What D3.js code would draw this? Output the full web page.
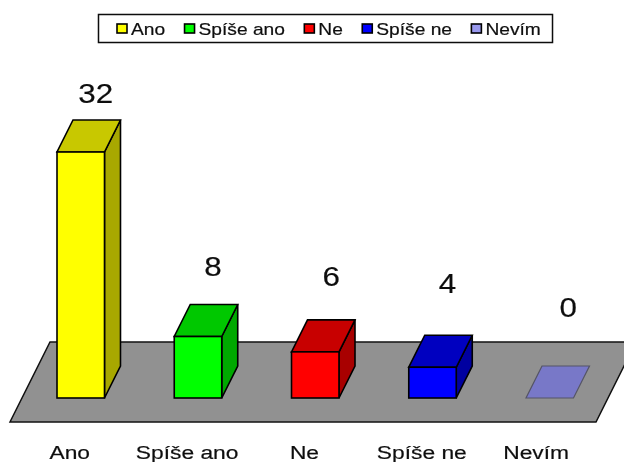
<!DOCTYPE html>
<html><head><meta charset="utf-8">
<script src="https://cdn.jsdelivr.net/npm/d3@7/dist/d3.min.js"></script>
<style>html,body{margin:0;background:#fff}svg{display:block}text{font-family:"Liberation Sans",Arial,sans-serif;fill:#111;stroke:#111;stroke-width:.2px}</style>
</head><body><svg id="c" width="624" height="462"></svg>
<script>
const categories=["Ano","Spíše ano","Ne","Spíše ne","Nevím"];
const values=[32,8,6,4,0];
const frontColors=["#ffff00","#00ff00","#ff0000","#0000ff","#9999ee"];
const topColors=["#c8c800","#00c800","#c80000","#0000c0","#7878c8"];
const sideColors=["#a8a800","#00a800","#a80000","#0000a0","#6868b0"];

const svg=d3.select("#c");
const defs=svg.append("defs");
defs.append("filter").attr("id","soft").attr("filterUnits","userSpaceOnUse").attr("x",0).attr("y",0).attr("width",624).attr("height",462)
  .append("feGaussianBlur").attr("stdDeviation",0.5);
const g=svg.append("g").attr("filter","url(#soft)");

const x=d3.scaleBand().domain(categories).range([57,573.5]).paddingInner(0.595).paddingOuter(0);
const y=d3.scaleLinear().domain([0,32]).range([398,152]);
const labelY=d3.scaleLinear().domain([0,4,6,8,32]).range([317,293,286,275.5,103]);
const depthX=16,depthY=32;
const line=d3.line();

function stretched(sel,tx,ty,sx){
  return sel.attr("transform",`translate(${tx},${ty}) scale(${sx},1)`);
}

g.append("path").attr("d",line([[10,422],[596,422],[636,342],[50,342]])+"Z")
  .attr("fill","#919191").attr("stroke","#111").attr("stroke-width",1.5);

const bars=g.selectAll("g.bar").data(categories).join("g").attr("class","bar");
bars.each(function(c,i){
  const b=d3.select(this),l=x(c),r=l+x.bandwidth(),t=y(values[i]),bt=y(0);
  const st=values[i]===0?"#556":"#000";
  if(values[i]>0){
    b.append("path").attr("d",line([[r,t],[r+depthX,t-depthY],[r+depthX,bt-depthY],[r,bt]])+"Z")
      .attr("fill",sideColors[i]).attr("stroke",st).attr("stroke-width",1.6);
    b.append("path").attr("d",line([[l,t],[r,t],[r+depthX,t-depthY],[l+depthX,t-depthY]])+"Z")
      .attr("fill",topColors[i]).attr("stroke",st).attr("stroke-width",1.6);
    b.append("rect").attr("x",l).attr("y",t).attr("width",r-l).attr("height",bt-t)
      .attr("fill",frontColors[i]).attr("stroke",st).attr("stroke-width",1.6);
  } else {
    b.append("path").attr("d",line([[l,t],[r,t],[r+depthX,t-depthY],[l+depthX,t-depthY]])+"Z")
      .attr("fill",topColors[i]).attr("stroke",st).attr("stroke-width",1.2);
  }
  stretched(b.append("text").text(values[i]).attr("text-anchor","middle").attr("font-size",28.5),
    (l+r)/2+15+(i===2?1:0)+(i===4?3.5:0),labelY(values[i]),1.1);
  stretched(b.append("text").text(c).attr("text-anchor","middle").attr("font-size",19),
    (l+r)/2-11+(i===4?-3:0)+i*0.1,458.5,1.2);
});

const lg=g.append("g");
lg.append("rect").attr("x",98.5).attr("y",14.5).attr("width",454).attr("height",28)
  .attr("fill","#fff").attr("stroke","#111").attr("stroke-width",1.5);
let cx=117;
const legendStretch=1.2;
categories.forEach((c,i)=>{
  lg.append("rect").attr("x",cx).attr("y",24).attr("width",10).attr("height",9)
    .attr("fill",frontColors[i]).attr("stroke","#000").attr("stroke-width",1.6);
  const t=stretched(lg.append("text").text(c).attr("font-size",16),cx+14,35,legendStretch);
  cx+=14+t.node().getComputedTextLength()*legendStretch+19.4;
});
</script></body></html>
